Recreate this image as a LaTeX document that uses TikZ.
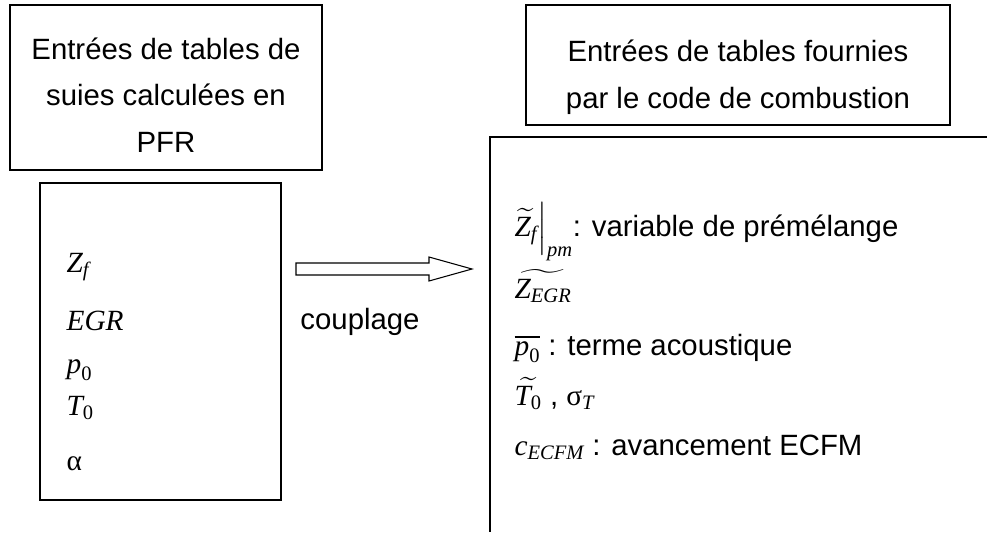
\documentclass[tikz,border=0pt]{standalone}
\usepackage{amsmath}
\usepackage{amssymb}
\usepackage{fontspec}
\setmainfont{Liberation Sans}
\newfontfamily\tms{Liberation Serif}
\newcommand{\vi}[1]{\text{\tms\itshape #1}}
\newcommand{\vr}[1]{\text{\tms #1}}
\usepackage{tikz}

\begin{document}
\begin{tikzpicture}[x=0.75pt,y=-0.75pt,line width=0.9pt,
		box/.style={draw,rectangle,inner sep=0pt},
		big/.style={font=\fontsize{22}{35}\selectfont},
		item/.style={big,anchor=base west,inner sep=0pt}]
			\useasboundingbox (0,0) rectangle (987,532);
			\node[box,minimum width=234pt,minimum height=123.75pt] (pfr) at (166,87.5) {};
			\node[big,align=center] (pfrtxt) at (166,95) {Entrées de tables de\\suies calculées en\\PFR};
			\node[box,minimum width=318pt,minimum height=90pt] (fourni) at (738,65) {};
			\node[big,align=center] (fournitxt) at (738,77) {Entrées de tables fournies\\par le code de combustion};
			\node[box,minimum width=180.75pt,minimum height=237.75pt] (suies) at (160.5,341.5) {};
			\coordinate (combA) at (987,137); \coordinate (combB) at (490,137); \coordinate (combC) at (490,532);
			\draw (combA) -- (combB) -- (combC);
			\node[item] (zf) at (66,272) {$\vi{Z}_{\vi{f}}$};
			\node[item] (egr) at (66,330) {$\vi{EGR}$};
			\node[item] (pz) at (66,373) {$\vi{p}_{\vr{0}}$};
			\node[item] (tz) at (66,415) {$\vi{T}_{\vr{0}}$};
			\node[item] (al) at (66,470) {$\vr{α}$};
			\draw[line width=0.8pt] (296,263) -- (429,263) -- (429,257) -- (472,269) -- (429,281) -- (429,275) -- (296,275) -- cycle;
			\node[big] (coupl) at (360,322) {couplage};
			\node[item] (zpm) at (514,236) {$\widetilde{\vi{Z}_{\vi{f}}}\Big|_{\vi{pm}}$: variable de prémélange};
			\node[item] (zegr) at (514,298) {$\widetilde{\vi{Z}_{\vi{EGR}}}$};
			\node[item] (pbar) at (514,355) {$\overline{\vi{p}_{\vr{0}}}$ : terme acoustique};
			\node[item] (tsig) at (514,405) {$\widetilde{\vi{T}_{\vr{0}}}$ , $\vr{σ}_{\vi{T}}$};
			\node[item] (cecfm) at (514,455) {$\vi{c}_{\vi{ECFM}}$ : avancement ECFM};
		\end{tikzpicture}
\end{document}
